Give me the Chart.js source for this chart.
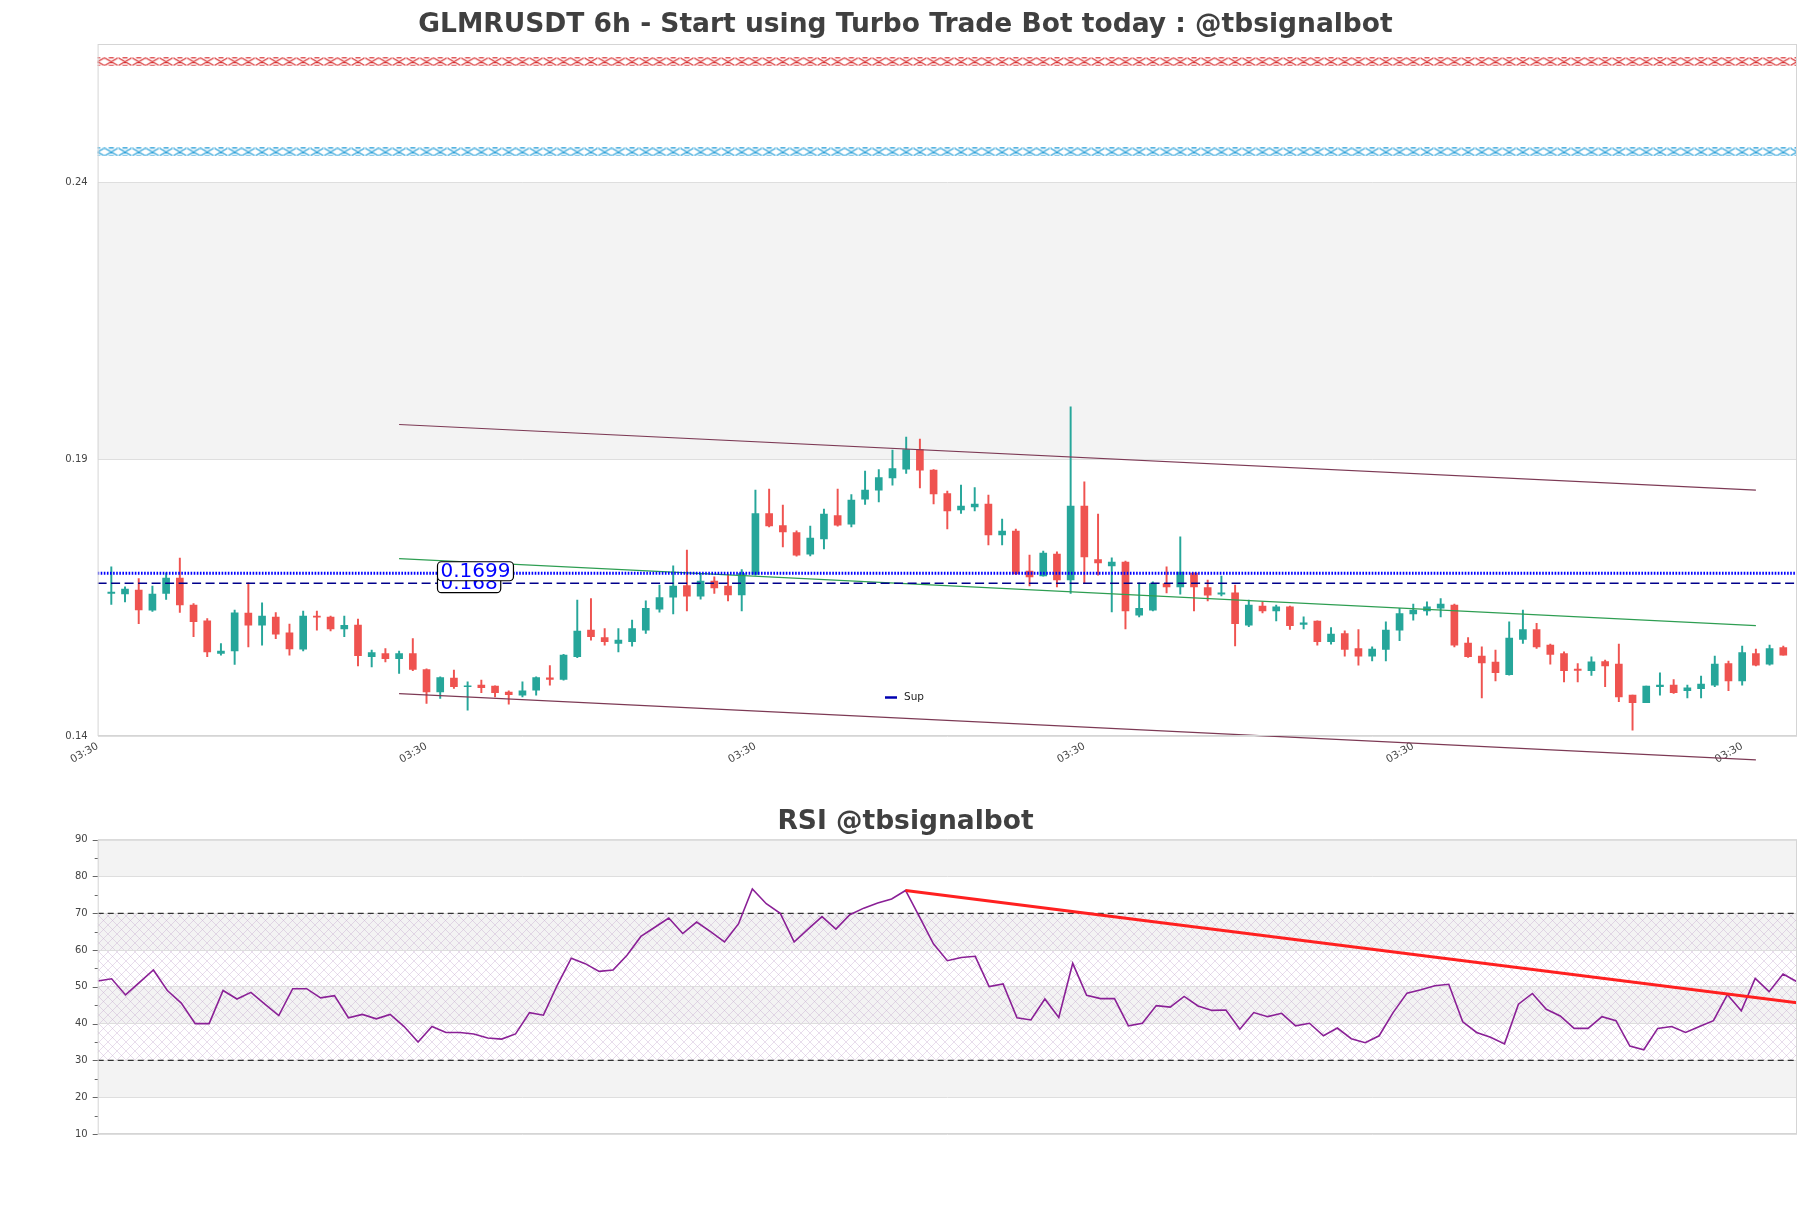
<!DOCTYPE html>
<html><head><meta charset="utf-8">
<script src="https://cdn.jsdelivr.net/npm/chart.js@4.4.0/dist/chart.umd.min.js"></script>
<style>
html,body{margin:0;padding:0;background:#fff;width:1811px;height:1208px;overflow:hidden;}
#c1{position:absolute;left:0;top:0;}
#c2{position:absolute;left:0;top:790px;}
</style></head><body>
<canvas id="c1" width="1811" height="800"></canvas>
<canvas id="c2" width="1811" height="418"></canvas>
<script>
// ---------------- DATA ----------------
const openP = [.16574,.16568,.16635,.16273,.16574,.16851,.16364,.16081,.15491,.15539,.16219,.16003,.16147,.15864,.15569,.16165,.16147,.15936,.16003,.15431,.15491,.15395,.15491,.15202,.14798,.15045,.14889,.14919,.14901,.14793,.14739,.14829,.15051,.15021,.15431,.15912,.15780,.15671,.15702,.15912,.16292,.16508,.16719,.16526,.16797,.16707,.16550,.16917,.18019,.17802,.17676,.17285,.17562,.17983,.17826,.18278,.18440,.18663,.18820,.19175,.18802,.18380,.18085,.18140,.18188,.17634,.17700,.16978,.16893,.17285,.16821,.18152,.17188,.17074,.17140,.16183,.16273,.16755,.16695,.16942,.16683,.16562,.16586,.16003,.16346,.16261,.16333,.16015,.16075,.15702,.15852,.15581,.15443,.15563,.15912,.16207,.16261,.16310,.16364,.15677,.15443,.15334,.15106,.15744,.15924,.15641,.15491,.15208,.15178,.15346,.15298,.14739,.14600,.14889,.14919,.14817,.14853,.14919,.15310,.14997,.15491,.15298,.15599];
const highP = [.17056,.16695,.16845,.16707,.16948,.17212,.16394,.16123,.15671,.16273,.16767,.16406,.16231,.16021,.16255,.16255,.16165,.16165,.16111,.15551,.15581,.15533,.15762,.15214,.15069,.15190,.14979,.15010,.14907,.14817,.14979,.15069,.15274,.15473,.16454,.16484,.15942,.15942,.16093,.16442,.16725,.17074,.17357,.16936,.16875,.16924,.17008,.18440,.18459,.18170,.17706,.17790,.18097,.18459,.18362,.18784,.18814,.19163,.19398,.19362,.18814,.18423,.18531,.18489,.18350,.17917,.17736,.17267,.17339,.17327,.19946,.18591,.18007,.17218,.17158,.16767,.16785,.17056,.17598,.16948,.16815,.16887,.16725,.16454,.16424,.16364,.16346,.16153,.16081,.15960,.15900,.15924,.15611,.16063,.16304,.16382,.16424,.16484,.16382,.15780,.15611,.15551,.16063,.16273,.16033,.15659,.15521,.15310,.15431,.15370,.15659,.14739,.14901,.15142,.15021,.14919,.15081,.15443,.15352,.15623,.15569,.15641,.15623];
const lowP = [.16376,.16424,.16027,.16249,.16466,.16231,.15792,.15431,.15461,.15292,.15611,.15641,.15756,.15461,.15539,.15912,.15900,.15792,.15268,.15250,.15340,.15130,.15178,.14588,.14678,.14859,.14468,.14781,.14708,.14576,.14708,.14739,.14919,.15010,.15413,.15732,.15641,.15521,.15623,.15852,.16237,.16207,.16261,.16472,.16574,.16442,.16261,.16905,.17778,.17417,.17249,.17255,.17381,.17790,.17778,.18182,.18230,.18531,.18742,.18483,.18194,.17742,.18019,.18067,.17453,.17453,.16912,.16713,.16887,.16695,.16574,.16755,.16905,.16243,.15936,.16153,.16261,.16586,.16562,.16261,.16442,.16532,.15629,.15973,.16225,.16081,.15924,.15936,.15641,.15659,.15443,.15280,.15358,.15358,.15720,.16093,.16183,.16153,.15611,.15419,.14690,.14997,.15100,.15671,.15581,.15298,.14979,.14979,.15094,.14889,.14618,.14106,.14600,.14739,.14769,.14690,.14690,.14889,.14817,.14919,.15268,.15280,.15461];
const closeP = [.16598,.16653,.16279,.16562,.16851,.16370,.16063,.15521,.15533,.16225,.16003,.16165,.15840,.15575,.16165,.16147,.15936,.15997,.15449,.15509,.15395,.15491,.15202,.14798,.15057,.14889,.14907,.14871,.14781,.14745,.14817,.15057,.15021,.15461,.15894,.15792,.15702,.15732,.15942,.16304,.16502,.16707,.16526,.16797,.16677,.16550,.16936,.18019,.17796,.17688,.17267,.17574,.18007,.17808,.18260,.18440,.18669,.18832,.19175,.18802,.18374,.18067,.18152,.18188,.17634,.17700,.16930,.16875,.17303,.16821,.18152,.17237,.17128,.17140,.16261,.16304,.16755,.16695,.16960,.16695,.16544,.16586,.16027,.16364,.16261,.16333,.15991,.16045,.15702,.15840,.15563,.15443,.15569,.15912,.16213,.16273,.16333,.16382,.15641,.15431,.15322,.15142,.15768,.15924,.15611,.15473,.15178,.15184,.15340,.15268,.14708,.14600,.14901,.14919,.14781,.14871,.14937,.15298,.14997,.15509,.15280,.15581,.15461];
const rsiValues = [51.6,52.2,47.8,51.2,54.6,49.0,45.6,40.0,40.0,49.0,46.7,48.5,45.3,42.2,49.5,49.5,47.0,47.6,41.6,42.5,41.3,42.5,39.2,35.0,39.2,37.6,37.6,37.2,36.1,35.8,37.2,43.0,42.3,50.5,57.8,56.3,54.2,54.6,58.6,63.7,66.2,68.7,64.5,67.6,65.0,62.2,67.1,76.6,72.6,70.0,62.2,65.7,69.1,65.7,69.6,71.4,72.8,73.9,76.2,69.0,61.7,57.1,58.0,58.3,50.1,50.8,41.6,41.0,46.7,41.7,56.4,47.7,46.8,46.8,39.4,40.1,44.9,44.5,47.4,44.8,43.6,43.7,38.5,43.0,41.9,42.8,39.4,40.1,36.7,38.8,35.9,34.8,36.7,43.0,48.3,49.2,50.3,50.7,40.5,37.6,36.3,34.5,45.3,48.2,43.9,42.1,38.7,38.7,41.9,40.8,33.9,32.9,38.7,39.2,37.6,39.2,40.8,47.9,43.5,52.3,48.7,53.5,51.4];

const xTickPositions = [-1, 23, 47, 71, 95, 119];
const xTickLabels = ['03:30','03:30','03:30','03:30','03:30','03:30'];
const yTickValues = [0.14, 0.19, 0.24];
const yTickLabels = ['0.14','0.19','0.24'];
const rsiTickValues = [10,15,20,25,30,35,40,45,50,55,60,65,70,75,80,85,90];

const upperChannelX = [21, 120], upperChannelY = [0.19627, 0.18440];
const lowerChannelX = [21, 120], lowerChannelY = [0.14765, 0.13570];
const greenTrendX = [21, 120], greenTrendY = [0.17205, 0.15994];
const resLevel = 0.1694, resLabel = '0.1699';
const supLevel = 0.1676, supLabel = '0.168';
const levelLabelIdx = 23.8;
const redCrossLevel = 0.2618, blueCrossLevel = 0.2455;
const rsiTrendX = [58, 122], rsiTrendY = [76.2, 45.7];
const rsiUpper = 70, rsiLower = 30;

const TITLE1 = 'GLMRUSDT 6h - Start using Turbo Trade Bot today : @tbsignalbot';
const TITLE2 = 'RSI @tbsignalbot';

// ---------------- BUILD ----------------
const UP = '#26a69a', DN = '#ef5350';
const idx = openP.map((_, i) => i);
const candleColors = idx.map(i => closeP[i] >= openP[i] ? UP : DN);
const bodies = idx.map(i => ({x: i, y: [openP[i], closeP[i]]}));
const wicks = idx.map(i => ({x: i, y: [lowP[i], highP[i]]}));
const FONT = '"DejaVu Sans", "Liberation Sans", sans-serif';
const X0 = -1, X1 = 123;
const crossIdx = [];
for (let i = X0; i <= X1; i++) crossIdx.push(i);

function seg(xs, ys) { return xs.map((x, i) => ({x: x, y: ys[i]})); }

function crossMarker(color) {
  const w = 14, h = 9;
  const c = document.createElement('canvas'); c.width = w; c.height = h;
  const g = c.getContext('2d');
  g.strokeStyle = color; g.lineWidth = 1.1;
  g.beginPath();
  g.moveTo(0.5, 0.8); g.lineTo(w - 0.5, h - 0.8);
  g.moveTo(w - 0.5, 0.8); g.lineTo(0.5, h - 0.8);
  g.moveTo(4.5, 0.8); g.lineTo(w - 4.5, 0.8);
  g.moveTo(4.5, h - 0.8); g.lineTo(w - 4.5, h - 0.8);
  g.stroke();
  return c;
}

const mainPlugin = {
  id: 'mainDeco',
  beforeDraw(chart) {
    const {ctx, chartArea: a, scales: {y}} = chart;
    ctx.save();
    ctx.fillStyle = '#ffffff';
    ctx.fillRect(a.left, a.top, a.right - a.left, a.bottom - a.top);
    ctx.fillStyle = '#f3f3f3';
    const t = y.getPixelForValue(yTickValues[2]), b = y.getPixelForValue(yTickValues[1]);
    ctx.fillRect(a.left, t, a.right - a.left, b - t);
    ctx.restore();
  },
  afterDraw(chart) {
    const {ctx, chartArea: a, scales: {x, y}} = chart;
    ctx.save();
    ctx.strokeStyle = '#d5d5d5'; ctx.lineWidth = 1;
    ctx.strokeRect(a.left + 0.5, a.top + 0.5, a.right - a.left - 1, a.bottom - a.top - 1);
    // title
    ctx.fillStyle = '#404040';
    ctx.font = 'bold 26.5px ' + FONT;
    ctx.textAlign = 'center'; ctx.textBaseline = 'middle';
    ctx.fillText(TITLE1, 905.5, 25.5);
    // level labels
    function box(txt, val, dy) {
      ctx.font = '20px ' + FONT;
      const w = ctx.measureText(txt).width;
      const px = x.getPixelForValue(levelLabelIdx), py = y.getPixelForValue(val) + dy;
      const bx = px, by = py - 9.5, bw = w + 6, bh = 19;
      ctx.beginPath();
      ctx.roundRect(bx, by, bw, bh, 4);
      ctx.fillStyle = '#ffffff'; ctx.fill();
      ctx.strokeStyle = '#000000'; ctx.lineWidth = 1.2; ctx.stroke();
      ctx.fillStyle = '#0000ff'; ctx.textAlign = 'left'; ctx.textBaseline = 'middle';
      ctx.fillText(txt, bx + 3, py + 1);
    }
    box(supLabel, supLevel, 0);
    box(resLabel, resLevel, -2);
    // legend
    ctx.strokeStyle = '#0000b0'; ctx.lineWidth = 2.5;
    ctx.beginPath(); ctx.moveTo(885, 697.5); ctx.lineTo(897, 697.5); ctx.stroke();
    ctx.fillStyle = '#222'; ctx.font = '10.5px ' + FONT; ctx.textAlign = 'left'; ctx.textBaseline = 'middle';
    ctx.fillText('Sup', 904, 697);
    ctx.restore();
  }
};

new Chart(document.getElementById('c1'), {
  type: 'bar',
  data: {
    datasets: [
      {type: 'line', data: seg([X0, X1], [resLevel, resLevel]), borderColor: '#0000ff', borderWidth: 2.8, borderDash: [1.6, 1.5], pointRadius: 0, order: 0},
      {type: 'line', data: seg([X0, X1], [supLevel, supLevel]), borderColor: '#00008b', borderWidth: 1.5, borderDash: [9, 4.5], pointRadius: 0, order: 0},
      {type: 'line', data: seg(upperChannelX, upperChannelY), borderColor: '#7d3a55', borderWidth: 1.2, pointRadius: 0, order: 0},
      {type: 'line', data: seg(lowerChannelX, lowerChannelY), borderColor: '#7d3a55', borderWidth: 1.2, pointRadius: 0, order: 0, clip: false},
      {type: 'line', data: seg(greenTrendX, greenTrendY), borderColor: '#2e9e52', borderWidth: 1.2, pointRadius: 0, order: 0},
      {type: 'line', data: crossIdx.map(i => ({x: i, y: redCrossLevel})), showLine: false, pointStyle: crossMarker('#d62728'), pointRadius: 5, order: 0},
      {type: 'line', data: crossIdx.map(i => ({x: i, y: blueCrossLevel})), showLine: false, pointStyle: crossMarker('#1f9bd6'), pointRadius: 5, order: 0},
      {type: 'bar', data: bodies, backgroundColor: candleColors, barThickness: 7, grouped: false, minBarLength: 1, order: 1},
      {type: 'bar', data: wicks, backgroundColor: candleColors, barThickness: 1.3, grouped: false, order: 2}
    ]
  },
  options: {
    responsive: false, animation: false, devicePixelRatio: 1, events: [],
    layout: {padding: {left: 0, right: 14, top: 44, bottom: 0}},
    plugins: {legend: {display: false}, tooltip: {enabled: false}, title: {display: false}},
    scales: {
      x: {
        type: 'linear', min: X0, max: X1, offset: false,
        afterBuildTicks: s => { s.ticks = xTickPositions.map(v => ({value: v})); },
        afterFit: s => { s.height = 64; },
        grid: {display: false, drawTicks: false, offset: false},
        border: {display: false},
        ticks: {autoSkip: false, minRotation: 30, maxRotation: 30, padding: 4, color: '#444', font: {size: 10.5, family: FONT},
          callback: (v, i) => xTickLabels[i]}
      },
      y: {
        min: 0.14, max: 0.265,
        afterBuildTicks: s => { s.ticks = yTickValues.map(v => ({value: v})); },
        afterFit: s => { s.width = 97.6; },
        grid: {color: '#dedede', drawTicks: false},
        border: {display: false},
        ticks: {padding: 10, color: '#444', font: {size: 10, family: FONT}, callback: (v, i) => yTickLabels[i]}
      }
    }
  },
  plugins: [mainPlugin]
});

// ---------------- RSI ----------------
function hatchPattern(ctx) {
  const c = document.createElement('canvas'); c.width = 9; c.height = 9;
  const g = c.getContext('2d');
  g.strokeStyle = 'rgba(195,165,205,0.55)'; g.lineWidth = 0.7;
  g.beginPath(); g.moveTo(0, 0); g.lineTo(9, 9); g.moveTo(9, 0); g.lineTo(0, 9); g.stroke();
  return ctx.createPattern(c, 'repeat');
}

const rsiPlugin = {
  id: 'rsiDeco',
  beforeDraw(chart) {
    const {ctx, chartArea: a, scales: {y}} = chart;
    ctx.save();
    const w = a.right - a.left;
    const bands = [[80, 90], [60, 70], [40, 50], [20, 30]];
    ctx.fillStyle = '#f3f3f3';
    bands.forEach(([lo, hi]) => { const t = y.getPixelForValue(hi), b = y.getPixelForValue(lo); ctx.fillRect(a.left, t, w, b - t); });
    ctx.fillStyle = hatchPattern(ctx);
    const t = y.getPixelForValue(rsiUpper), b = y.getPixelForValue(rsiLower);
    ctx.fillRect(a.left, t, w, b - t);
    ctx.restore();
  },
  afterDraw(chart) {
    const {ctx, chartArea: a, scales: {y}} = chart;
    ctx.save();
    ctx.strokeStyle = '#d5d5d5'; ctx.lineWidth = 1;
    ctx.strokeRect(a.left + 0.5, a.top + 0.5, a.right - a.left - 1, a.bottom - a.top - 1);
    ctx.strokeStyle = '#666'; ctx.lineWidth = 1;
    rsiTickValues.forEach(v => {
      const py = Math.round(y.getPixelForValue(v)) + 0.5;
      const len = v % 10 === 0 ? 5 : 3;
      ctx.beginPath(); ctx.moveTo(a.left - len, py); ctx.lineTo(a.left, py); ctx.stroke();
    });
    ctx.fillStyle = '#404040';
    ctx.font = 'bold 26.5px ' + FONT;
    ctx.textAlign = 'center'; ctx.textBaseline = 'middle';
    ctx.fillText(TITLE2, 905.5, 32);
    ctx.restore();
  }
};

new Chart(document.getElementById('c2'), {
  type: 'line',
  data: {
    datasets: [
      {data: seg(rsiTrendX, rsiTrendY), borderColor: '#ff2020', borderWidth: 3, pointRadius: 0, order: 0},
      {data: rsiValues.map((v, i) => ({x: i, y: v})), borderColor: '#8a2096', borderWidth: 1.6, pointRadius: 0, order: 1},
      {data: seg([0, rsiValues.length - 1], [rsiUpper, rsiUpper]), borderColor: '#333', borderWidth: 1.2, borderDash: [6, 4], pointRadius: 0, order: 2},
      {data: seg([0, rsiValues.length - 1], [rsiLower, rsiLower]), borderColor: '#333', borderWidth: 1.2, borderDash: [6, 4], pointRadius: 0, order: 2}
    ]
  },
  options: {
    responsive: false, animation: false, devicePixelRatio: 1, events: [],
    layout: {padding: {left: 0, right: 14, top: 49.7, bottom: 74}},
    plugins: {legend: {display: false}, tooltip: {enabled: false}, title: {display: false}},
    scales: {
      x: {type: 'linear', min: 0, max: rsiValues.length - 1, display: false},
      y: {
        min: 10, max: 90,
        afterBuildTicks: s => { s.ticks = rsiTickValues.map(v => ({value: v})); },
        afterFit: s => { s.width = 97.7; },
        grid: {drawTicks: false, color: c => (c.tick && c.tick.value % 10 === 0) ? '#dedede' : 'rgba(0,0,0,0)'},
        border: {display: false},
        ticks: {padding: 10, color: '#444', font: {size: 10, family: FONT}, callback: v => v % 10 === 0 ? String(v) : ''}
      }
    }
  },
  plugins: [rsiPlugin]
});
</script>
</body></html>
